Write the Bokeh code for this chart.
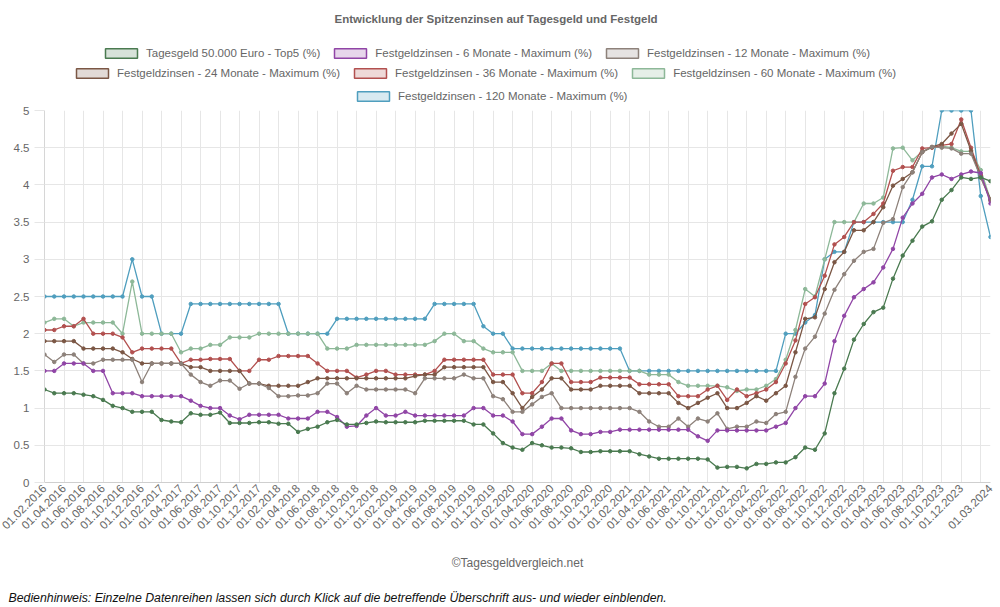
import math
from bokeh.plotting import figure
from bokeh.layouts import column
from bokeh.models import Range1d, FixedTicker, Legend, LegendItem, Title
from bokeh.embed import file_html
from bokeh.resources import INLINE

dates = [
    "01.02.2016", "01.03.2016", "01.04.2016", "01.05.2016", "01.06.2016", "01.07.2016",
    "01.08.2016", "01.09.2016", "01.10.2016", "01.11.2016", "01.12.2016",
    "01.01.2017", "01.02.2017", "01.03.2017", "01.04.2017", "01.05.2017", "01.06.2017",
    "01.07.2017", "01.08.2017", "01.09.2017", "01.10.2017", "01.11.2017", "01.12.2017",
    "01.01.2018", "01.02.2018", "01.03.2018", "01.04.2018", "01.05.2018", "01.06.2018",
    "01.07.2018", "01.08.2018", "01.09.2018", "01.10.2018", "01.11.2018", "01.12.2018",
    "01.01.2019", "01.02.2019", "01.03.2019", "01.04.2019", "01.05.2019", "01.06.2019",
    "01.07.2019", "01.08.2019", "01.09.2019", "01.10.2019", "01.11.2019", "01.12.2019",
    "01.01.2020", "01.02.2020", "01.03.2020", "01.04.2020", "01.05.2020", "01.06.2020",
    "01.07.2020", "01.08.2020", "01.09.2020", "01.10.2020", "01.11.2020", "01.12.2020",
    "01.01.2021", "01.02.2021", "01.03.2021", "01.04.2021", "01.05.2021", "01.06.2021",
    "01.07.2021", "01.08.2021", "01.09.2021", "01.10.2021", "01.11.2021", "01.12.2021",
    "01.01.2022", "01.02.2022", "01.03.2022", "01.04.2022", "01.05.2022", "01.06.2022",
    "01.07.2022", "01.08.2022", "01.09.2022", "01.10.2022", "01.11.2022", "01.12.2022",
    "01.01.2023", "01.02.2023", "01.03.2023", "01.04.2023", "01.05.2023", "01.06.2023",
    "01.07.2023", "01.08.2023", "01.09.2023", "01.10.2023", "01.11.2023", "01.12.2023",
    "01.01.2024", "01.02.2024", "01.03.2024",
]

tagesgeld = [
    1.25, 1.2, 1.2, 1.2, 1.18, 1.16, 1.11, 1.03, 1.0, 0.95,
    0.95, 0.95, 0.84, 0.82, 0.81, 0.93, 0.91, 0.91, 0.94, 0.8,
    0.8, 0.8, 0.81, 0.81, 0.79, 0.79, 0.68, 0.72, 0.75, 0.81,
    0.84, 0.78, 0.78, 0.8, 0.82, 0.81, 0.81, 0.81, 0.81, 0.83,
    0.83, 0.83, 0.83, 0.83, 0.78, 0.78, 0.66, 0.53, 0.47, 0.44,
    0.53, 0.5, 0.47, 0.47, 0.46, 0.41, 0.41, 0.42, 0.42, 0.42,
    0.42, 0.38, 0.35, 0.32, 0.32, 0.32, 0.32, 0.32, 0.31, 0.2,
    0.21, 0.21, 0.19, 0.25, 0.25, 0.27, 0.27, 0.34, 0.47, 0.44,
    0.66, 1.2, 1.53, 1.92, 2.13, 2.29, 2.35, 2.74, 3.05, 3.25,
    3.44, 3.51, 3.8, 3.93, 4.1, 4.08, 4.1, 4.05,
]
fest_6 = [
    1.5, 1.5, 1.6, 1.6, 1.6, 1.5, 1.5, 1.2, 1.2, 1.2,
    1.16, 1.16, 1.16, 1.16, 1.16, 1.1, 1.03, 1.0, 1.0, 0.9,
    0.85, 0.91, 0.91, 0.91, 0.91, 0.86, 0.86, 0.86, 0.95, 0.95,
    0.88, 0.75, 0.76, 0.9, 1.0, 0.9, 0.9, 0.95, 0.9, 0.9,
    0.9, 0.9, 0.9, 0.9, 1.0, 1.0, 0.9, 0.9, 0.82, 0.65,
    0.65, 0.75, 0.86, 0.86, 0.7, 0.65, 0.65, 0.68, 0.68, 0.71,
    0.71, 0.71, 0.71, 0.71, 0.71, 0.71, 0.71, 0.62, 0.56, 0.7,
    0.7, 0.7, 0.7, 0.7, 0.7, 0.75, 0.8, 1.0, 1.16, 1.16,
    1.33, 1.9, 2.24, 2.49, 2.6, 2.69, 2.89, 3.14, 3.56, 3.75,
    3.88, 4.1, 4.14, 4.08, 4.14, 4.18, 4.16, 3.75,
]
fest_12 = [
    1.72, 1.62, 1.72, 1.72, 1.6, 1.6, 1.65, 1.65, 1.65, 1.65,
    1.35, 1.6, 1.6, 1.6, 1.6, 1.45, 1.35, 1.3, 1.37, 1.37,
    1.26, 1.33, 1.33, 1.27, 1.16, 1.16, 1.17, 1.17, 1.2, 1.33,
    1.33, 1.2, 1.3, 1.25, 1.25, 1.25, 1.25, 1.25, 1.2, 1.4,
    1.4, 1.4, 1.4, 1.45, 1.4, 1.4, 1.16, 1.12, 0.95, 0.95,
    1.05, 1.15, 1.2, 1.0, 1.0, 1.0, 1.0, 1.0, 1.0, 1.0,
    1.0, 0.95, 0.82, 0.75, 0.75, 0.86, 0.75, 0.86, 0.82, 0.93,
    0.72, 0.75, 0.75, 0.82, 0.8, 0.92, 0.95, 1.42, 1.8, 1.96,
    2.27, 2.59, 2.8, 2.98, 3.1, 3.14, 3.49, 3.54, 3.97, 4.17,
    4.44, 4.51, 4.5, 4.49, 4.42, 4.42, 4.1, 3.79,
]
fest_24 = [
    1.9, 1.9, 1.9, 1.9, 1.8, 1.8, 1.8, 1.8, 1.75, 1.66,
    1.6, 1.6, 1.6, 1.6, 1.6, 1.55, 1.55, 1.5, 1.5, 1.5,
    1.5, 1.33, 1.33, 1.3, 1.3, 1.3, 1.3, 1.35, 1.4, 1.4,
    1.4, 1.4, 1.4, 1.4, 1.4, 1.4, 1.4, 1.4, 1.43, 1.45,
    1.45, 1.55, 1.55, 1.55, 1.55, 1.55, 1.35, 1.35, 1.2, 1.0,
    1.15, 1.25, 1.4, 1.4, 1.25, 1.25, 1.25, 1.3, 1.3, 1.3,
    1.3, 1.2, 1.2, 1.2, 1.2, 1.07, 1.0, 1.07, 1.14, 1.2,
    1.0, 1.0, 1.07, 1.16, 1.1, 1.2, 1.3, 1.75, 2.2, 2.22,
    2.6, 2.96, 3.1, 3.39, 3.39, 3.5, 3.7, 3.99, 4.08, 4.17,
    4.44, 4.51, 4.55, 4.69, 4.82, 4.46, 4.1, 3.81,
]
fest_36 = [
    2.05, 2.05, 2.1, 2.1, 2.2, 2.0, 2.0, 2.0, 1.95, 1.75,
    1.8, 1.8, 1.8, 1.8, 1.6, 1.65, 1.65, 1.66, 1.66, 1.66,
    1.5, 1.5, 1.65, 1.65, 1.7, 1.7, 1.7, 1.7, 1.6, 1.5,
    1.5, 1.5, 1.41, 1.45, 1.5, 1.5, 1.45, 1.45, 1.45, 1.45,
    1.5, 1.65, 1.65, 1.65, 1.65, 1.65, 1.45, 1.45, 1.45, 1.2,
    1.2, 1.35, 1.6, 1.6, 1.35, 1.35, 1.35, 1.41, 1.41, 1.41,
    1.41, 1.32, 1.32, 1.32, 1.32, 1.16, 1.16, 1.16, 1.25, 1.3,
    1.11, 1.25, 1.16, 1.2, 1.25, 1.35, 1.6, 1.91, 2.4, 2.49,
    2.78, 3.2, 3.3, 3.5, 3.5, 3.61, 3.75, 4.19, 4.24, 4.24,
    4.49, 4.5, 4.53, 4.55, 4.88, 4.5, 4.13, 3.79,
]
fest_60 = [
    2.15, 2.2, 2.2, 2.1, 2.15, 2.15, 2.15, 2.15, 2.0, 2.7,
    2.0, 2.0, 2.0, 2.0, 1.75, 1.8, 1.8, 1.85, 1.85, 1.95,
    1.95, 1.95, 2.0, 2.0, 2.0, 2.0, 2.0, 2.0, 2.0, 1.8,
    1.8, 1.8, 1.85, 1.85, 1.85, 1.85, 1.85, 1.85, 1.85, 1.85,
    1.9, 2.0, 2.0, 1.9, 1.9, 1.8, 1.75, 1.75, 1.75, 1.5,
    1.5, 1.5, 1.6, 1.5, 1.5, 1.5, 1.5, 1.5, 1.5, 1.5,
    1.5, 1.5, 1.45, 1.45, 1.45, 1.35, 1.3, 1.3, 1.3, 1.3,
    1.28, 1.23, 1.25, 1.25, 1.3, 1.39, 1.65, 2.05, 2.6, 2.5,
    3.0, 3.5, 3.5, 3.5, 3.75, 3.75, 3.83, 4.49, 4.5, 4.33,
    4.45, 4.5, 4.52, 4.5, 4.45, 4.45, 4.2, 3.8,
]
fest_120 = [
    2.5, 2.5, 2.5, 2.5, 2.5, 2.5, 2.5, 2.5, 2.5, 3.0,
    2.5, 2.5, 2.0, 2.0, 2.0, 2.4, 2.4, 2.4, 2.4, 2.4,
    2.4, 2.4, 2.4, 2.4, 2.4, 2.0, 2.0, 2.0, 2.0, 2.0,
    2.2, 2.2, 2.2, 2.2, 2.2, 2.2, 2.2, 2.2, 2.2, 2.2,
    2.4, 2.4, 2.4, 2.4, 2.4, 2.1, 2.0, 2.0, 1.8, 1.8,
    1.8, 1.8, 1.8, 1.8, 1.8, 1.8, 1.8, 1.8, 1.8, 1.8,
    1.5, 1.5, 1.5, 1.5, 1.5, 1.5, 1.5, 1.5, 1.5, 1.5,
    1.5, 1.5, 1.5, 1.5, 1.5, 1.5, 2.0, 2.0, 2.15, 2.25,
    3.0, 3.1, 3.1, 3.5, 3.5, 3.5, 3.5, 3.5, 3.5, 3.8,
    4.25, 4.25, 5.0, 5.0, 5.0, 5.0, 3.85, 3.3,
]

series_names = [
    "Tagesgeld 50.000 Euro - Top5 (%)",
    "Festgeldzinsen - 6 Monate - Maximum (%)",
    "Festgeldzinsen - 12 Monate - Maximum (%)",
    "Festgeldzinsen - 24 Monate - Maximum (%)",
    "Festgeldzinsen - 36 Monate - Maximum (%)",
    "Festgeldzinsen - 60 Monate - Maximum (%)",
    "Festgeldzinsen - 120 Monate - Maximum (%)",
]
series_values = [tagesgeld, fest_6, fest_12, fest_24, fest_36, fest_60, fest_120]
series_colors = ["#4a7a50", "#9045a6", "#8d817a", "#7b5745", "#b2504f", "#8db898", "#4f9ebe"]

y_ticks = [0, 0.5, 1, 1.5, 2, 2.5, 3, 3.5, 4, 4.5, 5]
y_tick_labels = ["0", "0.5", "1", "1.5", "2", "2.5", "3", "3.5", "4", "4.5", "5"]

title_text = "Entwicklung der Spitzenzinsen auf Tagesgeld und Festgeld"
copyright_text = "\u00a9Tagesgeldvergleich.net"
hint_text = ("Bedienhinweis: Einzelne Datenreihen lassen sich durch Klick auf die "
             "betreffende \u00dcberschrift aus- und wieder einblenden.")

FONT = "Liberation Sans"
GRID = "#e6e6e6"
TXT = "#666666"

n = len(dates)
xs = list(range(n))

# ---------- header: title + legend ----------
header = figure(width=1000, height=104, output_backend="svg", toolbar_location=None,
                x_range=Range1d(0, 1), y_range=Range1d(0, 1),
                x_axis_location=None, y_axis_location=None,
                min_border_left=0, min_border_right=0, min_border_top=0,
                min_border_bottom=0)
header.outline_line_color = None
header.xgrid.grid_line_color = None
header.ygrid.grid_line_color = None
header.title.text = title_text
header.title.align = "left"
header.title.offset = 290
header.title.text_font = FONT
header.title.text_font_size = "11.5px"
header.title.text_font_style = "bold"
header.title.text_color = TXT
header.title.standoff = 20

nan = float("nan")
legend_items = []
for name, col in zip(series_names, series_colors):
    r = header.quad(left=[nan], right=[nan], bottom=[nan], top=[nan], fill_color=col,
                    fill_alpha=0.22, line_color=col, line_width=1.5)
    legend_items.append(LegendItem(label=name, renderers=[r]))

rows = [legend_items[0:3], legend_items[3:6], legend_items[6:7]]
row_locs = [(57, 45), (28, 25), (309, 2)]
for items, loc in zip(rows, row_locs):
    lg = Legend(items=items, orientation="horizontal", location=loc,
                glyph_width=40, glyph_height=12, label_height=12, label_standoff=5,
                spacing=10, padding=0, margin=0, border_line_color=None,
                background_fill_alpha=0, label_text_font=FONT,
                label_text_font_size="11.5px", label_text_color=TXT)
    header.add_layout(lg, "center")

# ---------- main chart ----------
p = figure(width=1000, height=503, output_backend="svg", toolbar_location=None,
           x_range=Range1d(0, n - 1), y_range=Range1d(0, 5),
           min_border_left=44, min_border_right=10, min_border_top=6,
           min_border_bottom=125)
p.outline_line_color = None
p.background_fill_color = "white"
p.border_fill_color = "white"

x_tick_pos = list(range(0, n - 1, 2)) + [n - 1]
x_overrides = {i: dates[i] for i in x_tick_pos}
x_overrides[n - 2] = ""
p.xaxis.ticker = FixedTicker(ticks=x_tick_pos)
p.xaxis.major_label_overrides = x_overrides
p.xaxis.major_label_orientation = math.pi / 4
p.xaxis.major_label_text_font = FONT
p.xaxis.major_label_text_font_size = "11.5px"
p.xaxis.major_label_text_color = TXT
p.xaxis.major_label_standoff = 4
p.xaxis.major_tick_in = 0
p.xaxis.major_tick_out = 0
p.xaxis.minor_tick_line_color = None
p.xaxis.axis_line_color = "#cfcfcf"

p.yaxis.ticker = FixedTicker(ticks=y_ticks)
p.yaxis.major_label_overrides = dict(zip(y_ticks, y_tick_labels))
p.yaxis.major_label_text_font = FONT
p.yaxis.major_label_text_font_size = "11.5px"
p.yaxis.major_label_text_color = TXT
p.yaxis.major_label_standoff = 5
p.yaxis.major_tick_in = 0
p.yaxis.major_tick_out = 10
p.yaxis.major_tick_line_color = GRID
p.yaxis.minor_tick_line_color = None
p.yaxis.axis_line_color = "#d6d6d6"

p.xgrid.ticker = FixedTicker(ticks=x_tick_pos)
p.xgrid.grid_line_color = GRID
p.ygrid.ticker = FixedTicker(ticks=y_ticks)
p.ygrid.grid_line_color = GRID

for name, vals, col in reversed(list(zip(series_names, series_values, series_colors))):
    p.line(xs, vals, line_color=col, line_width=1.3)
    p.scatter(xs, vals, size=3.5, fill_color=col, line_color=col)

cp = Title(text=copyright_text, align="center", text_font=FONT, text_font_size="12px",
           text_color=TXT, text_font_style="normal", standoff=36)
p.add_layout(cp, "below")
hint = Title(text=hint_text, align="left", text_font=FONT, text_font_size="12.3px",
             text_color="#111111", text_font_style="italic", standoff=2, offset=-36)
p.add_layout(hint, "below")

layout = column(header, p, spacing=0)
open("out.html", "w").write(file_html(layout, INLINE))
